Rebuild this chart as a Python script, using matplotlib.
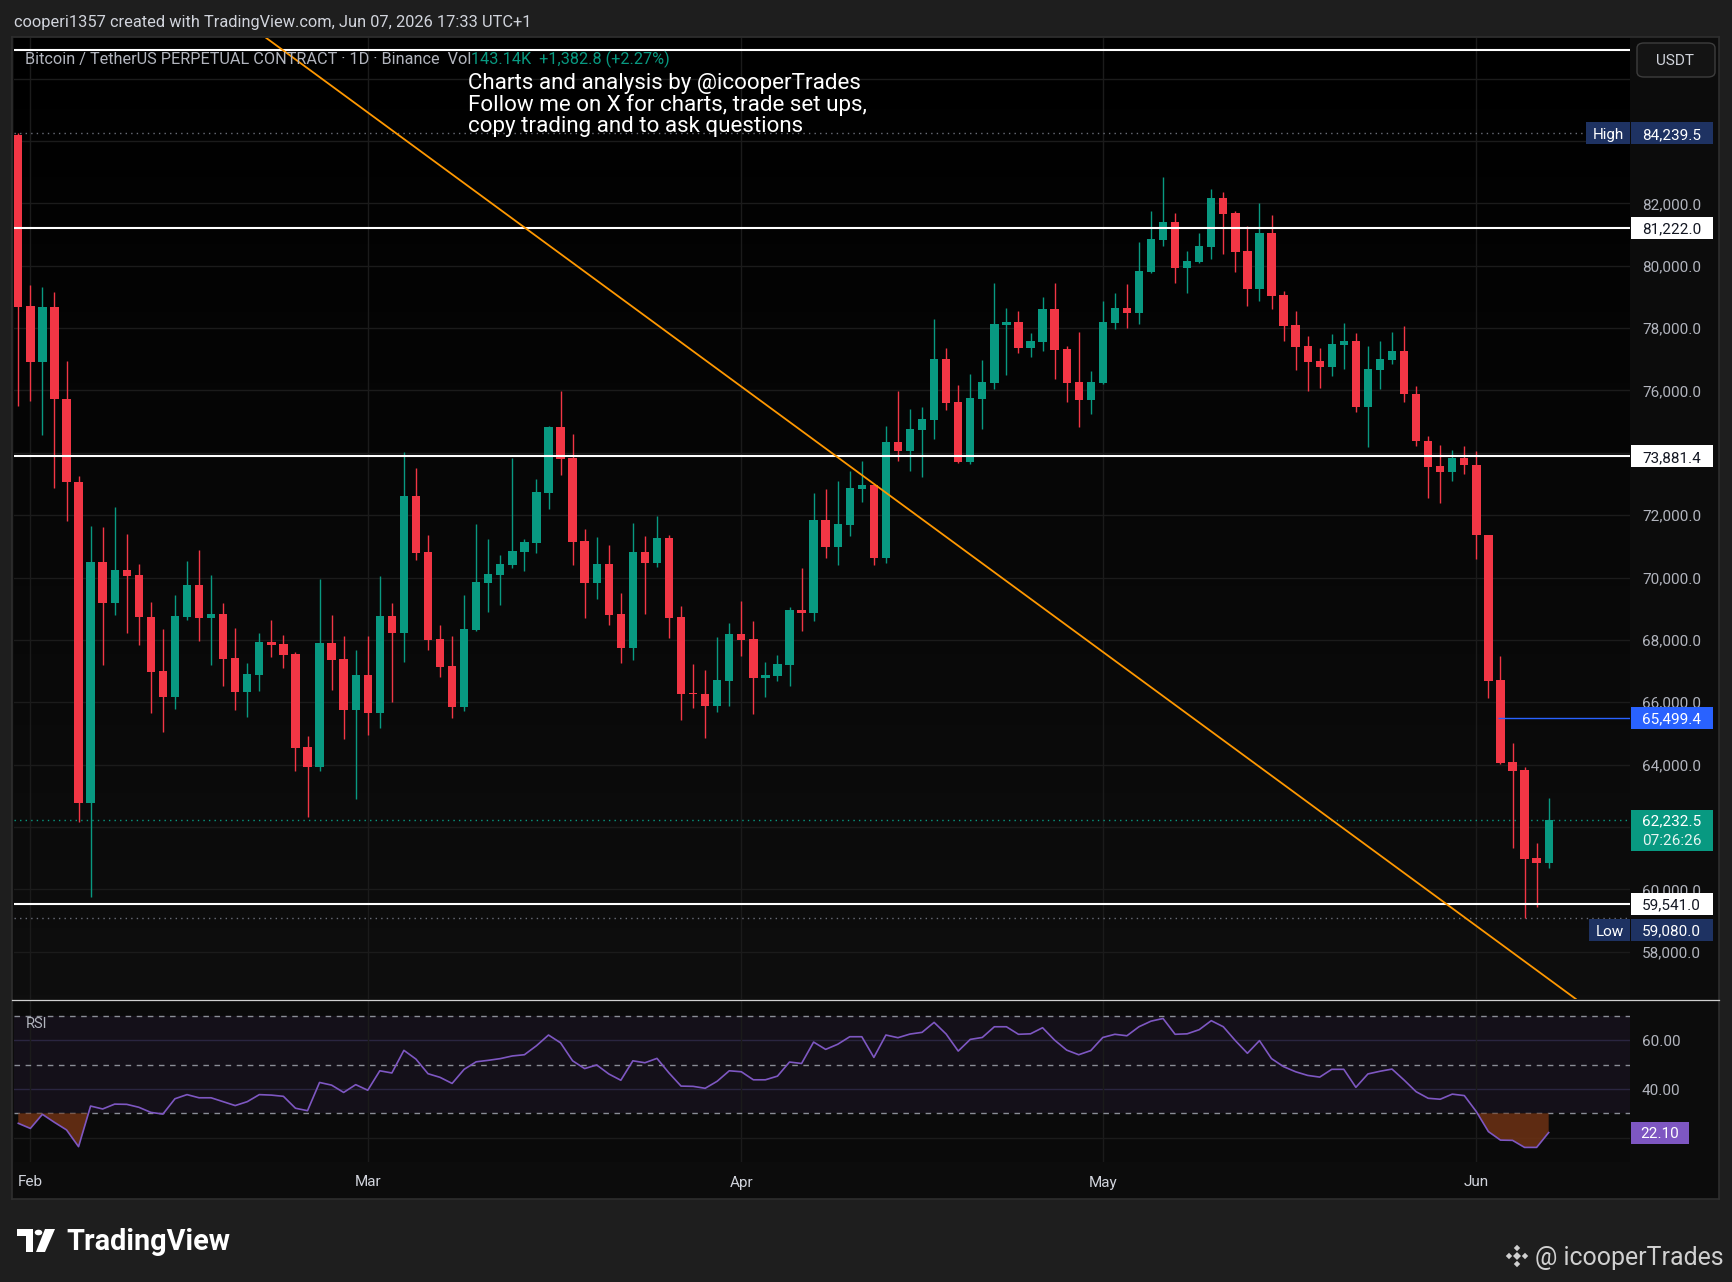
import numpy as np
import pandas as pd
import matplotlib
matplotlib.use("Agg")
import matplotlib.pyplot as plt
import matplotlib.transforms as mtrans
from matplotlib.patches import Rectangle, Polygon, Circle, FancyBboxPatch
from matplotlib.colors import LinearSegmentedColormap

plt.rcParams['font.family'] = ['Roboto', 'DejaVu Sans']

# ---------------- data ----------------
start_date = "2026-01-31"
opens = [84200, 78698, 76900, 78666, 75711, 73077, 62783, 70492, 69191, 70235,
         70074, 68741, 66991, 66172, 68741, 69753, 68712, 68830, 67419, 66328,
         66873, 67932, 67868, 67547, 64564, 63923, 67900, 67387, 65751, 66873,
         65655, 68766, 68221, 72614, 70818, 68028, 67162, 65858, 68317, 69834,
         70091, 70401, 70829, 71107, 72710, 74827, 73833, 71171, 69834, 70433,
         68830, 67739, 70818, 70466, 71267, 68734, 66296, 66264, 65880, 66681,
         68188, 68028, 66777, 66842, 67194, 68958, 68850, 71845, 70979, 71685,
         72839, 72967, 70637, 74346, 74058, 74731, 75052, 77008, 75629, 73705,
         75725, 76239, 78109, 78195, 77372, 77564, 78612, 77329, 76270, 75704,
         76249, 78163, 78644, 78483, 79798, 80824, 81402, 79926, 80119, 80600,
         82171, 81690, 80471, 79253, 81049, 79060, 78098, 77425, 76944, 76751,
         77457, 77585, 75468, 76655, 76988, 77258, 75871, 74382, 73586, 73368,
         73843, 73611, 71378, 66718, 64099, 63842, 60992, 60850]
highs = [84239.5, 79373, 79308, 79148, 76948, 73270, 71664, 71632, 72258, 71391,
         70443, 69207, 68339, 69448, 70524, 70877, 70080, 69183, 68381, 67258,
         68221, 68637, 68156, 67611, 64917, 69952, 68798, 68124, 67675, 68124,
         70048, 69183, 74025, 73512, 71363, 68477, 68124, 69439, 71716, 71235,
         70722, 73833, 71235, 73159, 74859, 75981, 74602, 71556, 71299, 71043,
         69503, 71748, 71331, 71973, 71363, 69086, 67226, 67034, 68092, 68541,
         69247, 68605, 67290, 67515, 69054, 70295, 72711, 72839, 73096, 73416,
         73737, 72990, 74860, 75982, 75405, 75469, 78291, 77361, 76174, 76527,
         76976, 79445, 78644, 78547, 77842, 78996, 79445, 77425, 77874, 76623,
         78868, 79125, 79413, 80760, 81754, 82845, 81690, 80472, 81049, 82460,
         82363, 81754, 81273, 82011, 81626, 79189, 78547, 77745, 77360, 77810,
         78162, 77842, 77425, 77585, 77861, 78054, 76141, 74549, 74254, 74099,
         74228, 74061, 71378, 67475, 64702, 63932, 61480, 62918]
lows = [75486, 75647, 74555, 72885, 71825, 62156, 59747, 67200, 68805, 68227,
        67842, 65658, 65032, 65786, 68645, 67970, 67194, 66521, 65751, 65537,
        66371, 67462, 67098, 63805, 62330, 63805, 66392, 64821, 62897, 64949,
        65174, 66008, 67291, 70561, 67675, 66820, 65505, 65729, 68295, 68904,
        69118, 70316, 70209, 70786, 72197, 73287, 70401, 68701, 69311, 68477,
        67258, 67355, 68830, 70337, 68060, 65430, 65815, 64853, 65687, 65880,
        67483, 65623, 66168, 66681, 66521, 68300, 68600, 70637, 70402, 71332,
        72422, 70402, 70466, 73737, 73416, 73224, 74443, 75373, 73673, 73641,
        74763, 76046, 76495, 77211, 77083, 77275, 76367, 75629, 74838, 75244,
        76200, 77970, 78002, 78131, 79766, 80632, 79445, 79125, 80087, 80215,
        80375, 79798, 78707, 78868, 78611, 77585, 76655, 75982, 76078, 76463,
        76687, 75308, 74186, 76046, 76860, 75640, 74202, 72546, 72405, 73111,
        73329, 70607, 66140, 64020, 61326, 59080, 59438, 60671]
closes = [78682, 76900, 78666, 75711, 73077, 62783, 70492, 69191, 70235, 70058,
          68741, 66975, 66172, 68757, 69753, 68709, 68830, 67387, 66328, 66906,
          67932, 67846, 67515, 64543, 63923, 67900, 67355, 65751, 66873, 65655,
          68766, 68221, 72614, 70797, 68006, 67141, 65858, 68349, 69856, 70112,
          70433, 70850, 71139, 72742, 74827, 73800, 71139, 69834, 70433, 68798,
          67739, 70818, 70466, 71267, 68702, 66264, 66275, 65880, 66713, 68188,
          67996, 66777, 66874, 67226, 68958, 68850, 71845, 70979, 71717, 72871,
          72967, 70637, 74346, 74058, 74763, 75084, 77008, 75597, 73705, 75757,
          76271, 78131, 78184, 77372, 77585, 78612, 77297, 76238, 75704, 76270,
          78195, 78644, 78483, 79830, 80856, 81402, 79926, 80151, 80632, 82171,
          81658, 80439, 79253, 81049, 79028, 78066, 77393, 76912, 76751, 77489,
          77585, 75468, 76687, 77008, 77258, 75871, 74369, 73560, 73368, 73843,
          73599, 71352, 66692, 64060, 63803, 60979, 60850, 62232.5]
rsi_values = [25.9, 23.8, 29.6, 26.3, 23.2, 16.3, 33.0, 31.8, 33.8, 33.7,
              32.5, 30.4, 29.7, 36.0, 37.7, 36.4, 36.4, 34.8, 33.2, 34.8,
              37.7, 37.5, 37.0, 32.1, 31.1, 42.7, 41.6, 38.6, 41.8, 39.5,
              47.5, 46.6, 55.9, 52.3, 46.3, 44.8, 42.3, 48.1, 51.2, 51.8,
              52.5, 53.6, 54.1, 57.8, 62.2, 59.0, 51.6, 48.4, 49.9, 46.2,
              43.6, 51.6, 50.8, 52.6, 46.6, 41.2, 41.1, 40.3, 43.2, 47.5,
              47.1, 43.8, 43.8, 45.3, 51.1, 50.5, 59.3, 56.3, 58.4, 61.5,
              61.5, 53.0, 62.2, 61.1, 62.6, 63.3, 67.4, 62.6, 55.6, 60.4,
              61.2, 65.6, 65.6, 62.5, 62.7, 65.2, 60.1, 56.0, 54.1, 55.8,
              61.2, 62.5, 61.9, 65.6, 67.9, 69.0, 62.5, 62.7, 64.4, 68.1,
              65.6, 59.9, 54.7, 59.9, 52.5, 49.2, 47.1, 45.6, 44.9, 48.1,
              48.1, 40.7, 46.2, 47.3, 48.2, 43.7, 38.9, 36.2, 35.8, 37.9,
              37.3, 30.7, 22.5, 19.0, 18.9, 16.0, 16.0, 22.1]

month_labels = ["Feb", "Mar", "Apr", "May", "Jun"]
month_starts = ["2026-02-01", "2026-03-01", "2026-04-01", "2026-05-01", "2026-06-01"]
# axis labels that TradingView shows (others are hidden behind price-line labels)
price_tick_values = [58000, 60000, 64000, 66000, 68000, 70000,
                     72000, 76000, 78000, 80000, 82000]
grid_values = [58000, 60000, 62000, 64000, 66000, 68000, 70000, 72000,
               74000, 76000, 78000, 80000, 82000, 84000, 86000]
white_levels = [86927.0, 81222.0, 73881.4, 59541.0]
white_level_labels = [None, "81,222.0", "73,881.4", "59,541.0"]
blue_level = 65499.4
blue_level_start = 122.8          # candle index where the ray begins
trend_x = [64.0, 81.0]            # candle index anchors of the orange trend line
trend_y = [74989.0, 70168.0]
high_price = 84239.5
low_price = 59080.0
last_price = 62232.5
countdown = "07:26:26"
rsi_ticks = [60, 40]
rsi_last = 22.10

# ---------------- figure ----------------
W, H = 1733, 1282
fig = plt.figure(figsize=(W / 100, H / 100), dpi=100, facecolor="#1e1e1e")


def rect_px(x0, y0, x1, y1):
    return [x0 / W, 1 - y1 / H, (x1 - x0) / W, (y1 - y0) / H]


GREEN = "#089981"
RED = "#f23645"
AXTXT = "#b2b5be"
GRID = "#1b1b1b"

ax_bg = fig.add_axes(rect_px(12, 37, 1719, 1199))
ax_bg.set_facecolor("#0c0c0c")
ax_bg.set_xticks([]); ax_bg.set_yticks([])
for s in ax_bg.spines.values():
    s.set_color("#2e2e2e"); s.set_linewidth(1.2)

PX0, PX1 = 14, 1630
ax_p = fig.add_axes(rect_px(PX0, 38, PX1, 999))
ax_r = fig.add_axes(rect_px(PX0, 1000, PX1, 1162))

n = len(closes)
x = np.arange(n)
dates = pd.date_range(start_date, periods=n, freq="D")
month_pos = [dates.get_loc(pd.Timestamp(m)) for m in month_starts]

XL = (-0.357, 133.75)
YL = (56483.0, 87302.0)
upp = (YL[1] - YL[0]) / 961.0   # price units per pixel

for a in (ax_p, ax_r):
    a.set_xlim(*XL)
    a.set_xticks([]); a.set_yticks([])
    for s in a.spines.values():
        s.set_visible(False)
ax_p.set_ylim(*YL)
ax_p.set_autoscale_on(False)

# gradient background of the price pane
grad = np.linspace(0, 1, 256).reshape(-1, 1)
ax_p.imshow(grad, cmap=LinearSegmentedColormap.from_list("bg", ["#000000", "#0e0e0e"]),
            extent=[0, 1, 0, 1], transform=ax_p.transAxes, aspect="auto", zorder=0)
ax_p.set_xlim(*XL); ax_p.set_ylim(*YL)

# grid
for v in grid_values:
    ax_p.axhline(v, color=GRID, lw=1.0, zorder=0.5)
for mp in month_pos:
    ax_p.axvline(mp, color=GRID, lw=1.0, zorder=0.5)

# candles
o = np.array(opens, float); c = np.array(closes, float)
hi = np.array(highs, float); lo = np.array(lows, float)
cols = np.where(c >= o, GREEN, RED)
ax_p.vlines(x, lo, hi, colors=cols, lw=1.0, zorder=2)
ax_p.bar(x, np.maximum(np.abs(c - o), 35), bottom=np.minimum(o, c), width=0.69,
         color=cols, linewidth=0, zorder=2.1)

# drawings
for lv in white_levels:
    ax_p.axhline(lv, color="white", lw=1.5, zorder=3)
ax_p.axline((trend_x[0], trend_y[0]), (trend_x[1], trend_y[1]), color="#ff9800", lw=1.3, zorder=3)
ax_p.hlines(blue_level, blue_level_start, XL[1], color="#2962ff", lw=1.0, zorder=3)
ax_p.axhline(high_price, color="#6a6d78", lw=1.0, ls=(0, (1, 3)), zorder=1)
ax_p.axhline(low_price, color="#6a6d78", lw=1.0, ls=(0, (1, 3)), zorder=1)
ax_p.axhline(last_price, color=GREEN, lw=1.0, ls=(0, (1, 3)), zorder=1)

# ---------------- price axis labels ----------------
blend_p = mtrans.blended_transform_factory(ax_p.transAxes, ax_p.transData)


def axf(px):
    return (px - PX0) / (PX1 - PX0)


FS = 11.0
for v in price_tick_values:
    ax_p.text(axf(1642), v, f"{v:,.1f}", transform=blend_p, color=AXTXT, fontsize=FS,
              ha="left", va="center_baseline", clip_on=False, zorder=5)


def price_box(price, text, fc, tc, x0=1631, x1=1713, top=11, bot=11, dy=0, tx=1642, ha="left"):
    pc = price - dy * upp
    ax_p.add_patch(Rectangle((axf(x0), pc - bot * upp), axf(x1) - axf(x0), (top + bot) * upp,
                             transform=blend_p, fc=fc, ec="none", clip_on=False, zorder=6))
    ax_p.text(axf(tx), pc, text, transform=blend_p, color=tc, fontsize=FS, ha=ha,
              va="center_baseline", clip_on=False, zorder=7)


for lv, lab in zip(white_levels, white_level_labels):
    if lab:
        price_box(lv, lab, "white", "#131722")
price_box(blue_level, f"{blue_level:,.1f}", "#2962ff", "white")
NAVY = "#1e3262"
price_box(high_price, f"{high_price:,.1f}", NAVY, "white")
price_box(high_price, "High", NAVY, "white", x0=1586, x1=1630, tx=1608, ha="center")
price_box(low_price, f"{low_price:,.1f}", NAVY, "white", dy=12)
price_box(low_price, "Low", NAVY, "white", x0=1589, x1=1630, dy=12, tx=1609.5, ha="center")
# current price with countdown
price_box(last_price, f"{last_price:,.1f}", GREEN, "white", top=10, bot=31)
ax_p.text(axf(1642), last_price - 20 * upp, countdown, transform=blend_p, color="#e6f4f1",
          fontsize=FS, ha="left", va="center_baseline", clip_on=False, zorder=7)

# USDT button
fig.patches.append(FancyBboxPatch((1637 / W, 1 - 77 / H), 78 / W, 34 / H,
                                  boxstyle="round,pad=0,rounding_size=0.004",
                                  transform=fig.transFigure, figure=fig,
                                  fc="#141414", ec="#3d3d3d", lw=1.0, zorder=10))
fig.text(1675.5 / W, 1 - 59.5 / H, "USDT", color="#d1d4dc", fontsize=11,
         ha="center", va="center_baseline", zorder=11)

# ---------------- RSI pane ----------------
r = np.array(rsi_values, float)
ax_r.set_facecolor("#0a0a0a")
ax_r.set_ylim(10.0, 76.6)
ax_r.set_xlim(*XL)
ax_r.set_autoscale_on(False)
ax_r.axhspan(30, 70, color="#7e57c2", alpha=0.085, lw=0, zorder=0.2)
for lv in (60, 40):
    ax_r.axhline(lv, color="#2a2540", lw=1.0, zorder=0.5)
ax_r.axhline(20, color=GRID, lw=1.0, zorder=0.5)
for mp in month_pos:
    ax_r.axvline(mp, color=GRID, lw=1.0, zorder=0.5)
for lv in (70, 50, 30):
    ax_r.axhline(lv, color="#8a8d96", lw=1.0, ls=(0, (4, 4)), zorder=1)
ax_r.fill_between(x, r, 30, where=r < 30, interpolate=True, color="#6e3214", alpha=0.85,
                  lw=0, zorder=1.5)
ax_r.plot(x, r, color="#7e57c2", lw=1.2, zorder=3)
ax_r.text(axf(25.7), 0.86, "RSI", transform=ax_r.transAxes, color=AXTXT, fontsize=10.5,
          ha="left", va="center_baseline")

blend_r = mtrans.blended_transform_factory(ax_r.transAxes, ax_r.transData)
for t in rsi_ticks:
    ax_r.text(axf(1642), t, f"{t:.2f}", transform=blend_r, color=AXTXT, fontsize=FS,
              ha="left", va="center_baseline", clip_on=False, zorder=5)
rupp = (76.6 - 10.0) / 162.0
ax_r.add_patch(Rectangle((axf(1631), rsi_last - 11 * rupp), axf(1689) - axf(1631), 22 * rupp,
                         transform=blend_r, fc="#7e57c2", ec="none", clip_on=False, zorder=6))
ax_r.text(axf(1660), rsi_last, f"{rsi_last:.2f}", transform=blend_r, color="white", fontsize=FS,
          ha="center", va="center_baseline", clip_on=False, zorder=7)

# time axis labels
blend_t = mtrans.blended_transform_factory(ax_r.transData, ax_r.transAxes)
for mp, lab in zip(month_pos, month_labels):
    ax_r.text(mp, (1162 - 1181) / 162.0, lab, transform=blend_t, color="#d1d4dc", fontsize=11,
              ha="center", va="center_baseline", clip_on=False)

# pane separator
fig.add_artist(plt.Line2D([12 / W, 1719 / W], [1 - 999.5 / H, 1 - 999.5 / H],
                          transform=fig.transFigure, color="#cfcfcf", lw=0.9))

# ---------------- texts ----------------
renderer = fig.canvas.get_renderer()


def fit(t, target):
    w = t.get_window_extent(renderer=renderer).width
    t.set_fontsize(t.get_fontsize() * target / w)
    return t.get_fontsize()


t = fig.text(14.4 / W, 1 - 26.7 / H, "cooperi1357 created with TradingView.com, Jun 07, 2026 17:33 UTC+1",
             color="#d1d4dc", fontsize=10, va="baseline", ha="left")
fit(t, 514)

t1 = fig.text(25.3 / W, 1 - 64 / H, "Bitcoin / TetherUS PERPETUAL CONTRACT · 1D · Binance  Vol",
              color=AXTXT, fontsize=10, va="baseline", ha="left", zorder=12)
fs_leg = fit(t1, 446)
fig.text(471.3 / W, 1 - 64 / H, "143.14K  +1,382.8 (+2.27%)", color=GREEN, fontsize=fs_leg,
         va="baseline", ha="left", zorder=12)

ann = ["Charts and analysis by @icooperTrades",
       "Follow me on X for charts, trade set ups,",
       "copy trading and to ask questions"]
ann_y = [89.3, 111.0, 131.7]
ts = [fig.text(468 / W, 1 - yy / H, s, color="white", fontsize=13, va="baseline", ha="left", zorder=12)
      for s, yy in zip(ann, ann_y)]
fs_ann = fit(ts[1], 398)
for tt in ts:
    tt.set_fontsize(fs_ann)

# footer: TradingView logo + wordmark
fig.patches.append(Polygon([(17 / W, 1 - 1229 / H), (33 / W, 1 - 1229 / H), (33 / W, 1 - 1252 / H),
                            (26 / W, 1 - 1252 / H), (26 / W, 1 - 1236 / H), (17 / W, 1 - 1236 / H)],
                           closed=True, transform=fig.transFigure, figure=fig, fc="white", ec="none"))
fig.patches.append(Circle((38.5 / W, 1 - 1232.5 / H), 3.8 / W, transform=fig.transFigure, figure=fig,
                          fc="white", ec="none"))
fig.patches.append(Polygon([(45 / W, 1 - 1229 / H), (55 / W, 1 - 1229 / H), (45 / W, 1 - 1252 / H),
                            (36 / W, 1 - 1252 / H)],
                           closed=True, transform=fig.transFigure, figure=fig, fc="white", ec="none"))
tv = fig.text(66 / W, 1 - 1250 / H, "TradingView", color="white", fontsize=18, fontweight="bold",
              va="baseline", ha="left")
fit(tv, 164)

# footer: watermark
cx, cy = 1517, 1256
for dx, dy_, s in [(0, 0, 4), (0, -8, 3.2), (0, 8, 3.2), (-8, 0, 3.2), (8, 0, 3.2)]:
    px, py = cx + dx, cy + dy_
    fig.patches.append(Polygon([((px - s) / W, 1 - py / H), (px / W, 1 - (py - s) / H),
                                ((px + s) / W, 1 - py / H), (px / W, 1 - (py + s) / H)],
                               closed=True, transform=fig.transFigure, figure=fig,
                               fc="#d0d0d0", ec="none"))
wm = fig.text(1535 / W, 1 - 1265 / H, "@ icooperTrades", color="#d0d0d0", fontsize=17,
              va="baseline", ha="left")
fit(wm, 189)

fig.savefig("out.png", dpi=100, facecolor=fig.get_facecolor())
